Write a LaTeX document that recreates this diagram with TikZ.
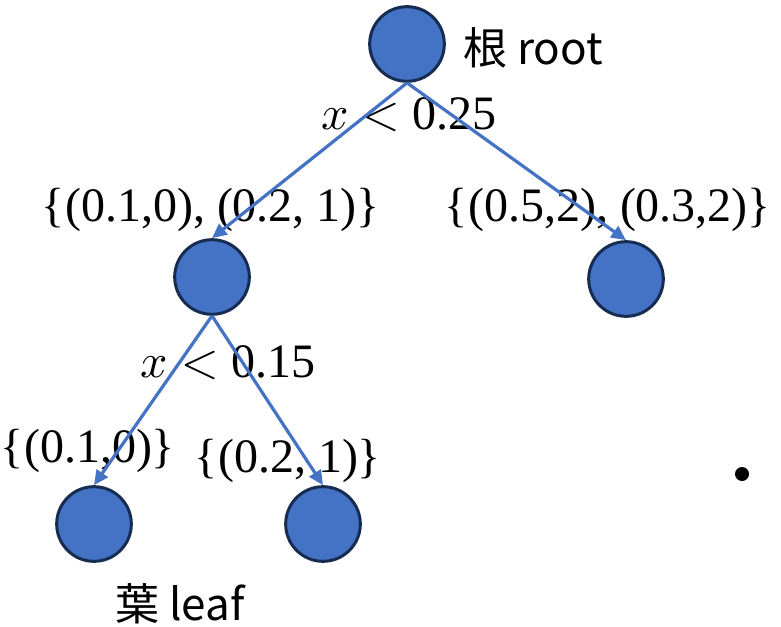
\documentclass[tikz,border=0pt]{standalone}
\usepackage{fontspec}
\usepackage{unicode-math}
\setmainfont{Liberation Serif}
\setmathfont{Latin Modern Math}
\newfontfamily\jpfont{Noto Sans CJK JP}
\usetikzlibrary{arrows.meta}
\definecolor{nodeblue}{HTML}{4472C4}
\definecolor{nodeedge}{HTML}{172C51}
\begin{document}
\begin{tikzpicture}[x=0.75pt,y=-0.75pt,
  treenode/.style={circle, fill=nodeblue, draw=nodeedge, line width=2.25pt,
    minimum size=56pt, inner sep=0pt},
  branch/.style={draw=nodeblue, line width=2.4pt,
    -{Triangle[length=11pt,width=10pt]}},
  setlabel/.style={font=\fontsize{36}{40}\selectfont, anchor=base, inner sep=0pt},
  jplabel/.style={font=\jpfont\fontsize{33}{38}\selectfont, anchor=base west, inner sep=0pt}]
\useasboundingbox (0,0) rectangle (781,627);

% tree nodes
\node[treenode] (root) at (407,44) {};
\node[treenode] (l)    at (212,277) {};
\node[treenode] (r)    at (626,279) {};
\node[treenode] (ll)   at (94,524) {};
\node[treenode] (lr)   at (323,524) {};
\node[circle, fill=black, inner sep=0pt, minimum size=10.5pt] (dot) at (742,474) {};

% labels
\node[jplabel] (rootlbl) at (463,65) {根 root};
\node[jplabel] (leaflbl) at (115,620) {葉 leaf};
\node[setlabel] (split1) at (409,130) {$x<\mbox{0.25}$};
\node[setlabel] (split2) at (228,377) {$x<\mbox{0.15}$};
\node[setlabel] (setl)  at (211,222) {\{(0.1,0), (0.2, 1)\}};
\node[setlabel] (setr)  at (608,222) {\{(0.5,2), (0.3,2)\}};
\node[setlabel] (setll) at (88,462)  {\{(0.1,0)\}};
\node[setlabel] (setlr) at (288,472) {\{(0.2, 1)\}};

% branches
\draw[branch] (root.south) -- (l.north);
\draw[branch] (root.south) -- (r.north);
\draw[branch] (l.south) -- (ll.north);
\draw[branch] (l.south) -- (lr.north);
\end{tikzpicture}
\end{document}
